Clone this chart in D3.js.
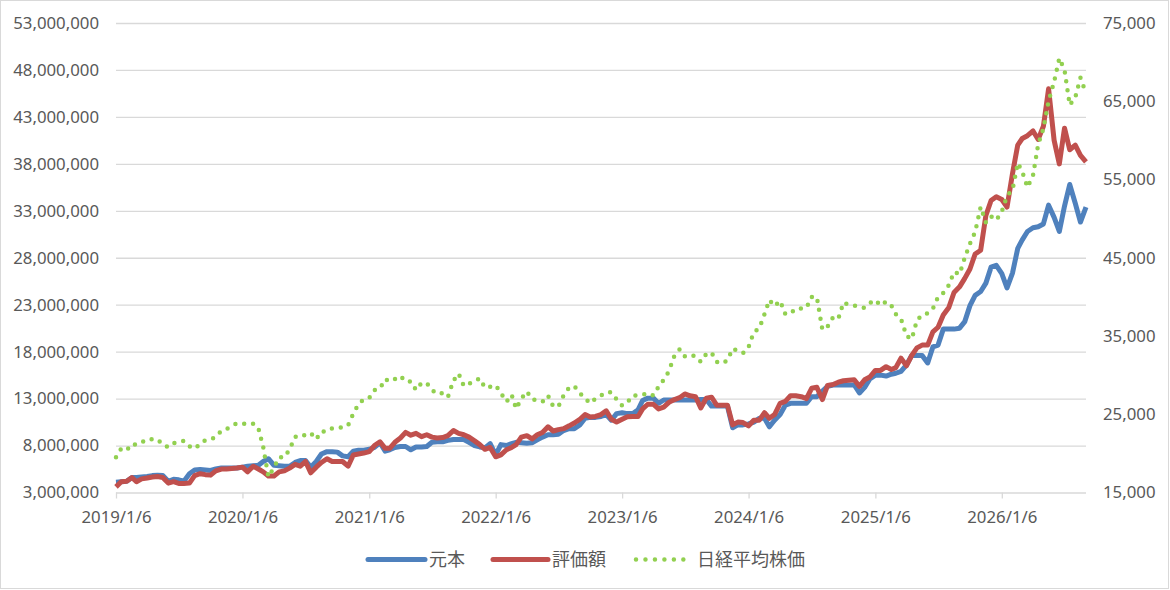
<!DOCTYPE html>
<html lang="ja">
<head>
  <meta charset="UTF-8">
  <title>元本・評価額・日経平均株価</title>
  <script src="https://cdn.jsdelivr.net/npm/d3@7"></script>
  <style>
    body { margin: 0; background: #fff; }
    svg text { font-family: "Noto Sans", "Noto Sans CJK JP", sans-serif; fill: #595959; }
    .legend text { font-family: "Noto Sans CJK JP", sans-serif; }
  </style>
</head>
<body>
<div id="chart"></div>
<script>
  // half-monthly samples (6th and 21st of each month) from 2019/1/6 to 2026/9/6
  const startYear = 2019;
  const sampleCount = 185;

  // 元本 (million yen)
  const principalM = [
    4.1, 4.15, 4.2, 4.6, 4.6, 4.65, 4.7, 4.8, 4.85, 4.8, 4.2, 4.4, 4.35, 4.2, 5.0, 5.4, 5.45, 5.4, 5.35, 5.5, 5.6, 5.6, 5.6, 5.6,
    5.7, 5.8, 5.85, 5.9, 6.3, 6.6, 5.9, 5.85, 5.8, 5.8, 6.2, 6.4, 6.4, 5.7, 6.3, 7.1, 7.35, 7.35, 7.3, 6.9, 6.8, 7.4, 7.5, 7.5,
    7.6, 7.8, 8.3, 7.4, 7.55, 7.8, 7.9, 7.9, 7.55, 7.85, 7.85, 7.9, 8.35, 8.4, 8.4, 8.55, 8.65, 8.65, 8.65, 8.35, 8.0, 7.85, 7.75, 8.2,
    7.0, 8.1, 8.0, 8.2, 8.35, 8.3, 8.25, 8.3, 8.6, 8.9, 9.15, 9.15, 9.2, 9.6, 9.8, 9.8, 10.2, 10.9, 11.0, 11.0, 11.1, 11.3, 10.7, 11.4,
    11.5, 11.4, 11.4, 11.8, 12.8, 13.05, 13.05, 12.5, 12.85, 12.85, 12.85, 12.85, 12.85, 12.85, 12.85, 12.9, 12.9, 12.2, 12.2, 12.2, 12.2, 9.9, 10.2, 10.2,
    10.3, 10.5, 10.9, 10.9, 10.0, 10.7, 11.3, 12.3, 12.5, 12.5, 12.5, 12.5, 13.2, 13.2, 13.8, 14.3, 14.45, 14.45, 14.45, 14.45, 14.45, 13.6, 14.2, 15.1,
    15.5, 15.5, 15.4, 15.6, 15.7, 15.9, 16.6, 17.6, 17.6, 17.6, 16.8, 18.5, 18.7, 20.4, 20.4, 20.4, 20.5, 21.2, 22.9, 24.0, 24.4, 25.3, 27.0, 27.2,
    26.3, 24.8, 26.4, 29.0, 29.9, 30.8, 31.2, 31.3, 31.6, 33.6, 32.3, 30.8, 33.5, 35.8, 33.8, 31.8, 33.4
  ];

  // 評価額 (million yen)
  const valuationM = [
    3.6, 4.15, 4.2, 4.6, 4.15, 4.45, 4.55, 4.65, 4.7, 4.6, 4.0, 4.15, 3.97, 3.97, 4.0, 4.8, 5.0, 4.9, 4.85, 5.3, 5.5, 5.5, 5.55, 5.6,
    5.7, 5.2, 5.8, 5.5, 5.2, 4.76, 4.76, 5.2, 5.3, 5.6, 6.0, 5.8, 6.3, 5.1, 5.7, 6.2, 6.6, 6.3, 6.3, 6.3, 5.8, 7.0, 7.1, 7.2,
    7.35, 8.0, 8.4, 7.7, 7.7, 8.35, 8.8, 9.4, 9.1, 9.3, 8.95, 9.15, 8.9, 8.8, 8.85, 9.05, 9.6, 9.3, 9.15, 8.9, 8.5, 8.1, 7.6, 7.8,
    6.8, 7.0, 7.55, 7.8, 8.1, 8.9, 9.05, 8.7, 9.15, 9.4, 10.0, 9.55, 9.7, 9.8, 10.1, 10.4, 10.8, 11.3, 11.05, 11.1, 11.3, 11.7, 10.8, 10.5,
    10.8, 11.07, 11.1, 11.1, 11.9, 12.4, 12.4, 11.9, 12.1, 12.6, 12.9, 13.1, 13.5, 13.3, 13.2, 12.0, 13.05, 13.15, 12.3, 12.3, 12.3, 10.2, 10.5, 10.45,
    10.1, 10.7, 10.7, 11.5, 10.9, 11.3, 12.5, 12.7, 13.3, 13.3, 13.2, 13.0, 14.1, 14.2, 12.9, 14.4, 14.5, 14.75, 14.9, 14.95, 15.0, 14.3, 15.0, 15.3,
    16.0, 16.0, 16.4, 16.1, 16.3, 17.3, 16.5, 17.6, 18.4, 18.7, 18.7, 20.1, 20.6, 21.9, 22.7, 24.3, 24.9, 25.8, 26.8, 28.4, 28.8, 32.5, 34.1, 34.5,
    34.2, 33.4, 37.0, 40.0, 40.7, 41.0, 41.5, 40.6, 42.0, 46.0, 40.5, 38.0, 41.8, 39.5, 40.0, 38.9, 38.2
  ];

  // 日経平均株価 (thousand yen)
  const nikkeiK = [
    19.5, 20.6, 20.4, 21.2, 21.1, 21.4, 21.8, 21.8, 21.8, 21.1, 20.8, 21.3, 21.5, 21.6, 20.9, 20.6, 21.2, 21.7, 21.8, 22.1, 22.9, 23.1, 23.5, 23.85,
    23.85, 23.7, 23.8, 23.2, 20.8, 17.0, 18.2, 19.5, 19.5, 20.5, 22.1, 22.4, 22.3, 22.6, 21.8, 22.8, 22.8, 23.2, 23.3, 23.3, 23.6, 25.1, 26.3, 26.9,
    27.1, 28.1, 28.3, 29.5, 29.2, 29.5, 29.9, 29.2, 29.2, 28.1, 29.0, 29.0, 28.1, 27.6, 27.7, 27.2, 29.3, 30.2, 28.6, 28.9, 29.2, 29.6, 28.4, 28.5,
    28.7, 27.7, 26.6, 27.5, 25.7, 27.0, 27.9, 26.9, 26.8, 26.6, 27.4, 26.0, 26.0, 27.4, 28.4, 28.6, 27.7, 27.0, 26.4, 27.0, 27.4, 27.8, 27.8, 26.9,
    26.1, 26.5, 27.4, 27.4, 27.5, 27.7, 27.4, 28.5, 29.4, 30.5, 32.5, 33.3, 32.4, 32.6, 32.4, 31.7, 32.7, 32.9, 31.7, 31.5, 31.9, 33.4, 33.1, 32.8,
    33.6, 35.5, 36.0, 37.8, 39.6, 38.8, 39.5, 37.8, 37.9, 38.5, 38.5, 38.6, 40.0, 40.0, 35.8, 36.2, 37.4, 37.2, 39.3, 39.0, 38.9, 38.7, 38.6, 39.2,
    39.6, 38.9, 39.4, 38.9, 37.8, 37.2, 35.0, 34.6, 37.0, 37.7, 37.9, 38.5, 40.0, 40.5, 41.5, 43.2, 42.9, 45.0, 46.8, 48.3, 51.5, 49.5, 50.3, 49.8,
    50.9, 52.9, 53.7, 57.1, 56.0, 54.0, 55.5, 59.5, 61.5, 65.0, 67.5, 70.5, 69.0, 64.5, 65.5, 68.0, 66.0
  ];

  const leftTicks = [3e6, 8e6, 13e6, 18e6, 23e6, 28e6, 33e6, 38e6, 43e6, 48e6, 53e6];
  const rightTicks = [15000, 25000, 35000, 45000, 55000, 65000, 75000];
  const yearTicks = ['2019-01-06', '2020-01-06', '2021-01-06', '2022-01-06', '2023-01-06', '2024-01-06', '2025-01-06', '2026-01-06'];

  const seriesNames = ['元本', '評価額', '日経平均株価'];
  const colors = ['#4F81BD', '#C0504D', '#92D050'];

  const dates = d3.range(sampleCount).map(k => new Date(startYear, Math.floor(k / 2), k % 2 ? 21 : 6));

  const w = 1170;
  const h = 590;
  const plotLeft = 116;
  const plotRight = 1086;
  const plotTop = 23;
  const plotBottom = 492.5;

  const x = d3.scaleTime()
    .domain([dates[0], dates[dates.length - 1]])
    .range([plotLeft, plotRight]);
  const yL = d3.scaleLinear().domain([3e6, 53e6]).range([plotBottom, plotTop]);
  const yR = d3.scaleLinear().domain([15000, 75000]).range([plotBottom, plotTop]);

  const svg = d3.select('#chart')
    .append('svg')
    .attr('width', w)
    .attr('height', h);

  svg.append('rect')
    .attr('x', 0.5).attr('y', 0.5)
    .attr('width', w - 2).attr('height', h - 2)
    .attr('fill', '#fff')
    .attr('stroke', '#d9d9d9');

  // gridlines
  svg.append('g')
    .attr('transform', `translate(${plotLeft},0)`)
    .call(d3.axisLeft(yL).tickValues(leftTicks).tickSize(-(plotRight - plotLeft)).tickFormat(''))
    .call(g => g.select('.domain').remove())
    .call(g => g.selectAll('line').attr('stroke', '#d9d9d9').attr('stroke-width', 1.3));

  // left labels
  svg.append('g')
    .attr('transform', `translate(${plotLeft},0)`)
    .call(d3.axisLeft(yL).tickValues(leftTicks).tickSize(0).tickPadding(17).tickFormat(d3.format(',')))
    .call(g => g.select('.domain').remove())
    .call(g => g.selectAll('text').style('font-size', '16.8px').attr('fill', '#595959'));

  // right labels
  svg.append('g')
    .attr('transform', `translate(${plotRight},0)`)
    .call(d3.axisRight(yR).tickValues(rightTicks).tickSize(0).tickPadding(17).tickFormat(d3.format(',')))
    .call(g => g.select('.domain').remove())
    .call(g => g.selectAll('text').style('font-size', '16.8px').attr('fill', '#595959'));

  // x axis
  svg.append('g')
    .attr('transform', `translate(0,${plotBottom})`)
    .call(d3.axisBottom(x)
      .tickValues(yearTicks.map(d => d3.timeParse('%Y-%m-%d')(d)))
      .tickSize(6)
      .tickPadding(13)
      .tickFormat(d3.timeFormat('%Y/%-m/%-d')))
    .call(g => g.select('.domain').remove())
    .call(g => g.selectAll('line').attr('stroke', '#d9d9d9').attr('stroke-width', 1.3))
    .call(g => g.selectAll('text').style('font-size', '16.8px').attr('fill', '#595959'));

  const lineL = d3.line().x((d, i) => x(dates[i])).y(d => yL(d * 1e6));
  const lineR = d3.line().x((d, i) => x(dates[i])).y(d => yR(d * 1000));

  svg.append('path')
    .datum(principalM)
    .attr('d', lineL)
    .attr('fill', 'none')
    .attr('stroke', colors[0])
    .attr('stroke-width', 5)
    .attr('stroke-linejoin', 'round');

  svg.append('path')
    .datum(valuationM)
    .attr('d', lineL)
    .attr('fill', 'none')
    .attr('stroke', colors[1])
    .attr('stroke-width', 5)
    .attr('stroke-linejoin', 'round');

  svg.append('path')
    .datum(nikkeiK)
    .attr('d', lineR)
    .attr('fill', 'none')
    .attr('stroke', colors[2])
    .attr('stroke-width', 4.5)
    .attr('stroke-linecap', 'round')
    .attr('stroke-dasharray', '0 9');

  // legend
  const legend = svg.append('g').attr('class', 'legend');
  const legendItems = [
    { x1: 368, x2: 425, tx: 429 },
    { x1: 493, x2: 548, tx: 552 },
    { x1: 636, x2: 684, tx: 697 }
  ];
  legendItems.forEach((d, i) => {
    const ln = legend.append('line')
      .attr('x1', d.x1).attr('x2', d.x2)
      .attr('y1', 559.5).attr('y2', 559.5)
      .attr('stroke', colors[i])
      .attr('stroke-width', i < 2 ? 5 : 4.5)
      .attr('stroke-linecap', 'round');
    if (i === 2) ln.attr('stroke-dasharray', '0 9.47');
    legend.append('text')
      .attr('x', d.tx)
      .attr('y', 559.5)
      .attr('dy', '0.36em')
      .style('font-size', '18px')
      .text(seriesNames[i]);
  });
</script>
</body>
</html>
